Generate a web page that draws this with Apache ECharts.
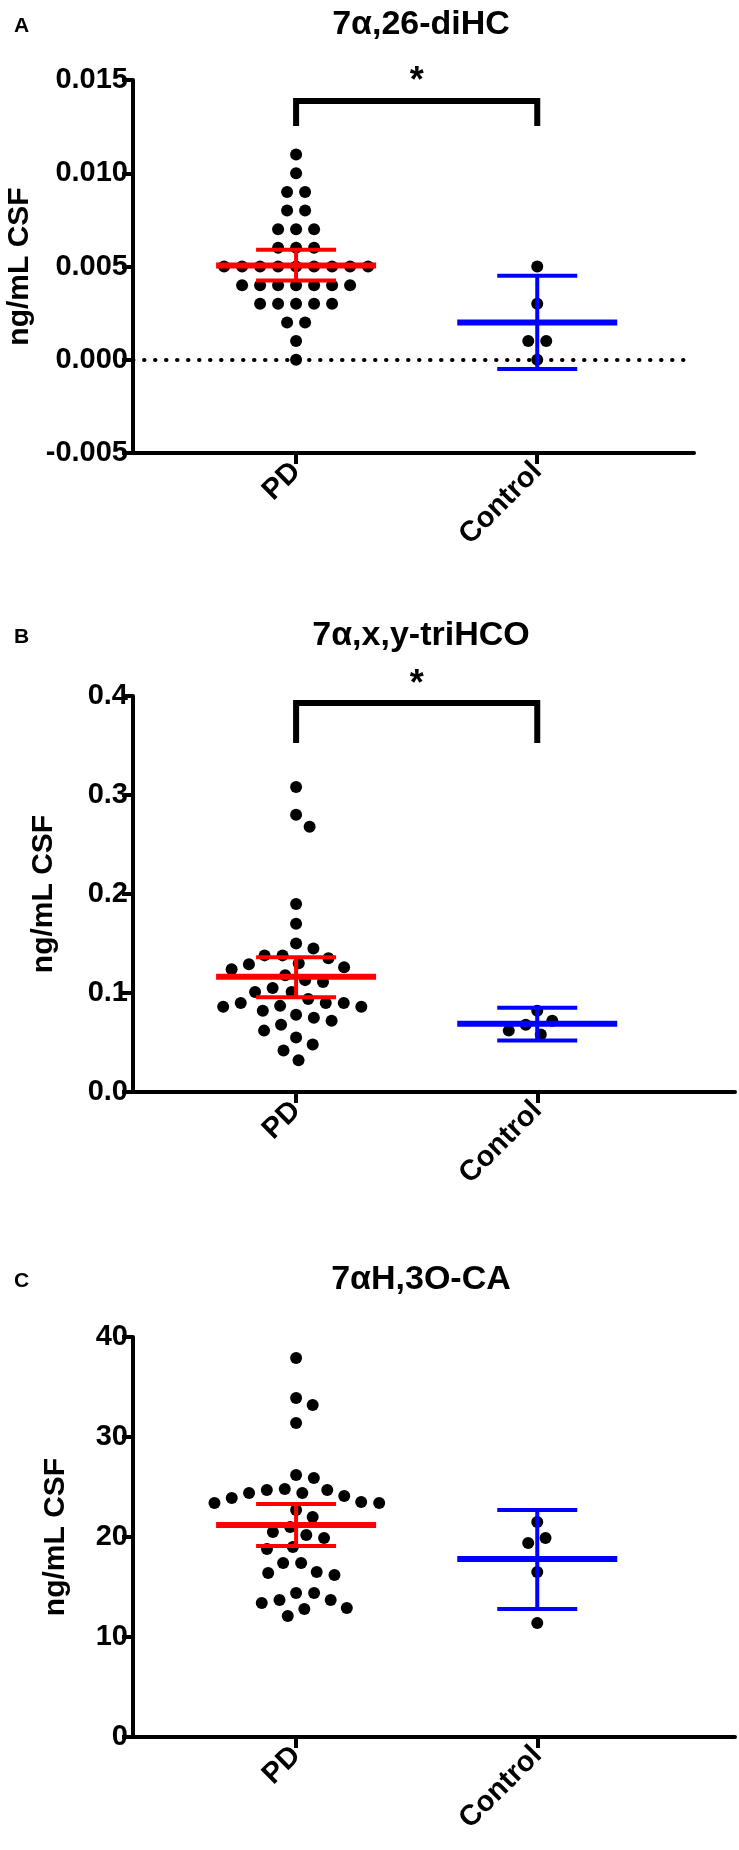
<!DOCTYPE html>
<html><head><meta charset="utf-8">
<script src="https://cdn.jsdelivr.net/npm/echarts@6/dist/echarts.min.js"></script>
<style>html,body{margin:0;padding:0;background:#fff}#c{width:739px;height:1850px}</style>
</head><body><div id="c"></div>
<script>
// ---------- data ----------
const groups = ['PD', 'Control'];
const panelLetters = ['A', 'B', 'C'];
const panelTitles = ['7α,26-diHC', '7α,x,y-triHCO', '7αH,3O-CA'];
const yLabel = 'ng/mL CSF';

// Panel A values (ng/mL CSF)
const pdA = [0.011, 0.010, 0.009, 0.009, 0.008, 0.008, 0.007, 0.007, 0.007, 0.006, 0.006, 0.006,
  0.005, 0.005, 0.005, 0.005, 0.005, 0.005, 0.005, 0.005, 0.005,
  0.004, 0.004, 0.004, 0.004, 0.004, 0.004, 0.004,
  0.003, 0.003, 0.003, 0.003, 0.003, 0.002, 0.002, 0.001, 0.000];
const ctrlA = [0.005, 0.003, 0.001, 0.001, 0.000];
const meanA = [0.00505, 0.0020];
const loA = [0.00425, -0.0005];
const hiA = [0.0059, 0.0045];

// Panel B values
const pdB = [0.308, 0.280, 0.268, 0.190, 0.170, 0.150, 0.145, 0.138, 0.138, 0.135, 0.130, 0.129,
  0.126, 0.124, 0.118, 0.113, 0.111, 0.105, 0.101, 0.101, 0.094, 0.090, 0.090, 0.090, 0.087,
  0.086, 0.086, 0.082, 0.078, 0.075, 0.072, 0.068, 0.062, 0.055, 0.048, 0.042, 0.032];
const ctrlB = [0.082, 0.072, 0.068, 0.062, 0.058];
const meanB = [0.1165, 0.069];
const loB = [0.0957, 0.052];
const hiB = [0.136, 0.085];

// Panel C values
const pdC = [37.9, 33.9, 33.2, 31.4, 26.2, 25.9, 24.8, 24.7, 24.7, 24.4, 24.4, 24.1, 23.9, 23.5,
  23.4, 23.4, 22.7, 22.0, 21.0, 20.5, 20.2, 19.9, 19.0, 18.8, 17.4, 17.4, 16.5, 16.4, 16.2,
  14.4, 14.4, 13.7, 13.7, 13.4, 12.9, 12.8, 12.1];
const ctrlC = [21.5, 19.9, 19.4, 16.5, 11.4];
const meanC = [21.2, 17.8];
const loC = [19.1, 12.8];
const hiC = [23.3, 22.7];

// y-axis ranges [min, max, interval]
const yRangeA = [-0.005, 0.015, 0.005];
const yRangeB = [0, 0.4, 0.1];
const yRangeC = [0, 40, 10];

// significance brackets: [fromGroup, toGroup, barTop, legEnd, starY]
const sigA = [1, 2, 0.01387, 0.01253, 0.0149];
const sigB = [1, 2, 0.393, 0.3525, 0.4106];
const sigText = '*';

// ---------- chart ----------
const FONT = '"Liberation Sans", Arial, Helvetica, sans-serif';
const DOT = 12, DOT_GAP = 18;
const TICK_FS = 29, NAME_FS = 30, TITLE_FS = 34;
const panels = [
  { pd: pdA, ctrl: ctrlA, mean: meanA, lo: loA, hi: hiA, yr: yRangeA, dec: 3, sig: sigA, zero: true, ties: true,
    grid: { left: 133, top: 80, width: 561, height: 373 }, xMax: 2.65, titleTop: 3, letterTop: 11, nameGap: 92 },
  { pd: pdB, ctrl: ctrlB, mean: meanB, lo: loB, hi: hiB, yr: yRangeB, dec: 1, sig: sigB, zero: false, ties: false,
    grid: { left: 133, top: 696, width: 602, height: 396 }, xMax: 2.82, titleTop: 614, letterTop: 622, nameGap: 74 },
  { pd: pdC, ctrl: ctrlC, mean: meanC, lo: loC, hi: hiC, yr: yRangeC, dec: 0, sig: null, zero: false, ties: false,
    grid: { left: 133, top: 1337, width: 602, height: 400 }, xMax: 2.82, titleTop: 1258, letterTop: 1266, nameGap: 62 }
];
const X_MIN = 0.3237;
const COLORS = ['#ff0000', '#0000ff'];

function errRender(params, api) {
  const x = api.value(0);
  const pm = api.coord([x, api.value(1)]);
  const pl = api.coord([x, api.value(2)]);
  const ph = api.coord([x, api.value(3)]);
  const c = COLORS[params.dataIndex];
  const st = { stroke: c, lineWidth: 4 };
  return { type: 'group', children: [
    { type: 'line', shape: { x1: pm[0], y1: pl[1], x2: pm[0], y2: ph[1] }, style: st },
    { type: 'line', shape: { x1: pm[0] - 40, y1: ph[1], x2: pm[0] + 40, y2: ph[1] }, style: st },
    { type: 'line', shape: { x1: pm[0] - 40, y1: pl[1], x2: pm[0] + 40, y2: pl[1] }, style: st },
    { type: 'line', shape: { x1: pm[0] - 80, y1: pm[1], x2: pm[0] + 80, y2: pm[1] }, style: { stroke: c, lineWidth: 6 } }
  ] };
}
function sigRender(params, api) {
  const a = api.coord([api.value(0), api.value(3)]);
  const b = api.coord([api.value(0), api.value(2)]);
  const c = api.coord([api.value(1), api.value(2)]);
  const d = api.coord([api.value(1), api.value(3)]);
  const s = api.coord([(api.value(0) + api.value(1)) / 2, api.value(4)]);
  return { type: 'group', children: [
    { type: 'polyline', shape: { points: [a, b, c, d] }, style: { stroke: '#000', lineWidth: 6, fill: null, lineJoin: 'miter' } },
    { type: 'text', x: s[0], y: s[1], style: { text: sigText, fill: '#000', font: 'bold 36px ' + FONT, textAlign: 'center', textVerticalAlign: 'middle' } }
  ] };
}

const option = { animation: false, backgroundColor: '#fff', title: [], grid: [], xAxis: [], yAxis: [], series: [] };
panels.forEach((p, i) => {
  option.title.push({ text: panelTitles[i], left: 416, top: p.titleTop, textAlign: 'center',
    textStyle: { fontSize: TITLE_FS, fontWeight: 'bold', color: '#000', fontFamily: FONT } });
  option.title.push({ text: panelLetters[i], left: 9, top: p.letterTop,
    textStyle: { fontSize: 21, fontWeight: 'bold', color: '#000', fontFamily: FONT } });
  option.grid.push(Object.assign({ containLabel: false, outerBoundsMode: 'none' }, p.grid));
  option.xAxis.push({ type: 'value', gridIndex: i, min: X_MIN, max: p.xMax,
    axisLine: { show: true, onZero: false, lineStyle: { color: '#000', width: 4 } },
    axisTick: { show: true, customValues: [1, 2], length: 11, lineStyle: { color: '#000', width: 4 } },
    axisLabel: { show: true, customValues: [1, 2], formatter: v => groups[Math.round(v) - 1] || '', rotate: 45,
      fontSize: TICK_FS, fontWeight: 'bold', color: '#000', fontFamily: FONT, margin: 14 },
    splitLine: { show: false } });
  option.yAxis.push({ type: 'value', gridIndex: i, min: p.yr[0], max: p.yr[1], interval: p.yr[2],
    axisLine: { show: true, onZero: false, lineStyle: { color: '#000', width: 4 } },
    axisTick: { show: true, length: 11, lineStyle: { color: '#000', width: 4 } },
    axisLabel: { fontSize: TICK_FS, fontWeight: 'bold', color: '#000', fontFamily: FONT, margin: 5,
      formatter: v => v.toFixed(p.dec) },
    splitLine: { show: false },
    name: yLabel, nameLocation: 'middle', nameGap: p.nameGap,
    nameTextStyle: { fontSize: NAME_FS, fontWeight: 'bold', color: '#000', fontFamily: FONT } });
  [p.pd, p.ctrl].forEach((vals, g) => {
    const s = { id: 'dots' + i + '_' + g, type: 'scatter', xAxisIndex: i, yAxisIndex: i,
      data: vals.map(v => [g + 1, v]), symbol: 'circle', symbolSize: DOT,
      itemStyle: { color: '#000', opacity: 1 }, z: 3, silent: true, clip: false };
    if (g === 0 && p.zero) {
      s.markLine = { silent: true, symbol: 'none', label: { show: false },
        lineStyle: { color: '#000', width: 4, type: [0.5, 10.5], cap: 'round', opacity: 1 }, data: [{ yAxis: 0 }] };
    }
    option.series.push(s);
  });
  option.series.push({ type: 'custom', xAxisIndex: i, yAxisIndex: i, renderItem: errRender, z: 6, silent: true, clip: false,
    data: [0, 1].map(g => [g + 1, p.mean[g], p.lo[g], p.hi[g]]) });
  if (p.sig) {
    option.series.push({ type: 'custom', xAxisIndex: i, yAxisIndex: i, renderItem: sigRender, z: 6, silent: true, clip: false,
      data: [p.sig] });
  }
});

const chart = echarts.init(document.getElementById('c'), null, { renderer: 'canvas' });
chart.setOption(option);

// beeswarm layout in pixel space via the chart's own scales
function swarm(pys, vals, D, ties) {
  const n = pys.length;
  const order = pys.map((y, k) => k).sort((a, b) => pys[a] - pys[b]);
  const placed = [];
  const off = new Array(n).fill(0);
  order.forEach(k => {
    const y = pys[k];
    const near = placed.filter(q => Math.abs(q.y - y) < D);
    const cands = [0];
    near.forEach(q => { const dx = Math.sqrt(D * D - (q.y - y) * (q.y - y)); cands.push(q.x + dx, q.x - dx); });
    cands.sort((a, b) => Math.abs(a) - Math.abs(b) || b - a);
    let best = 0;
    for (const c of cands) {
      if (near.every(q => (q.x - c) * (q.x - c) + (q.y - y) * (q.y - y) >= D * D - 0.01)) { best = c; break; }
    }
    off[k] = best; placed.push({ x: best, y: y });
  });
  if (ties) {
    const byVal = {};
    vals.forEach((v, k) => { (byVal[v] = byVal[v] || []).push(k); });
    Object.values(byVal).forEach(ks => {
      const m = ks.reduce((s, k) => s + off[k], 0) / ks.length;
      ks.forEach(k => { off[k] -= m; });
    });
  }
  return off;
}
const upd = [];
panels.forEach((p, i) => {
  const unit = chart.convertToPixel({ gridIndex: i }, [2, 0])[0] - chart.convertToPixel({ gridIndex: i }, [1, 0])[0];
  [p.pd, p.ctrl].forEach((vals, g) => {
    const pys = vals.map(v => chart.convertToPixel({ gridIndex: i }, [g + 1, v])[1]);
    const off = swarm(pys, vals, DOT_GAP, p.ties);
    upd.push({ id: 'dots' + i + '_' + g, data: vals.map((v, k) => [g + 1 + off[k] / unit, v]) });
  });
});
chart.setOption({ series: upd });
</script>
</body></html>
